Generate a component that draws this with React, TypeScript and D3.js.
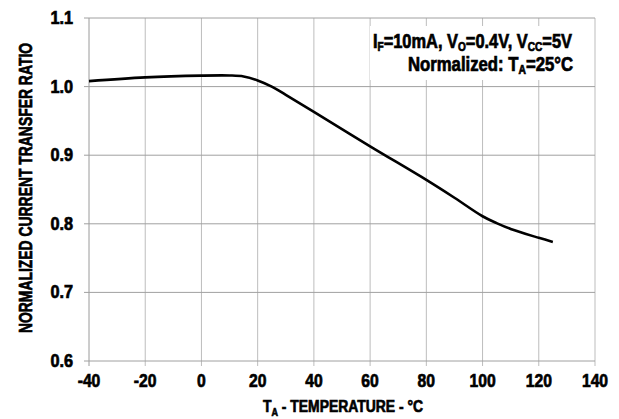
import React, { useLayoutEffect, useRef, useState } from "react";
import * as d3 from "d3";

// readings (temperature °C -> normalized CTR)
const temps = [-40, -20, 0, 10, 15, 20, 25, 30, 40, 60, 80, 90, 100, 105, 110, 120, 125];
const ctr = [1.008, 1.0135, 1.016, 1.0162, 1.0148, 1.009, 1.0, 0.988, 0.963, 0.913, 0.864, 0.838, 0.811, 0.801, 0.7925, 0.7795, 0.7735];

const xTicks = [-40, -20, 0, 20, 40, 60, 80, 100, 120, 140];
const yTicks = [0.6, 0.7, 0.8, 0.9, 1.0, 1.1];

const W = 619, H = 419;
const FONT = "'Liberation Sans', Arial, sans-serif";

// text squeezed horizontally, either to a fixed factor or to a target width
const FitText = ({ x, y, anchor = "start", width, scale, rotate = 0, fontSize, children }:
  { x: number; y: number; anchor?: string; width?: number; scale?: number; rotate?: number; fontSize: number; children: React.ReactNode }) => {
  const ref = useRef<SVGTextElement | null>(null);
  const [k, setK] = useState(scale ?? 0.85);
  useLayoutEffect(() => {
    if (width && ref.current) {
      const w = ref.current.getBBox().width;
      if (w > 0) setK(width / w);
    }
  }, [width]);
  return (
    <g transform={`translate(${x},${y}) rotate(${rotate}) scale(${k},1)`}>
      {/* thin stroke to get the heavy condensed look of the original */}
      <text ref={ref} textAnchor={anchor} fontSize={fontSize} stroke="#000" strokeWidth={0.7}>{children}</text>
    </g>
  );
};

const App = () => {
  const x = d3.scaleLinear().domain([-40, 140]).range([89, 595]);
  const y = d3.scaleLinear().domain([0.6, 1.1]).range([361, 18]);

  const line = d3.line<number>()
    .x((d, i) => x(temps[i]))
    .y((d) => y(d))
    .curve(d3.curveCatmullRom.alpha(0.5));

  return (
    <svg width={W} height={H} style={{ position: "absolute", left: 0, top: 0, background: "#fff" }}
      fontFamily={FONT} fontWeight="bold">
      {/* grid */}
      {xTicks.map((t) => (
        <line key={"vx" + t} x1={x(t)} x2={x(t)} y1={y(1.1)} y2={y(0.6) + 5}
          stroke={t === -40 ? "#9a9a9a" : "#bdbdbd"} strokeWidth={1} />
      ))}
      {yTicks.map((t) => (
        <line key={"hy" + t} x1={x(-40) - 5} x2={x(140)} y1={y(t)} y2={y(t)}
          stroke="#a0a0a0" strokeWidth={1} />
      ))}

      {/* annotation with white backing */}
      <rect x={370} y={26} width={224} height={54} fill="#fff" />
      <FitText x={572} y={48} anchor="end" width={199} fontSize={19.5}>
        I<tspan fontSize={12} dy={3}>F</tspan>
        <tspan dy={-3}>=10mA, V</tspan>
        <tspan fontSize={12} dy={3}>O</tspan>
        <tspan dy={-3}>=0.4V, V</tspan>
        <tspan fontSize={12} dy={3}>CC</tspan>
        <tspan dy={-3}>=5V</tspan>
      </FitText>
      <FitText x={573} y={71} anchor="end" width={165} fontSize={19.5}>
        Normalized: T<tspan fontSize={12} dy={3}>A</tspan>
        <tspan dy={-3}>=25°C</tspan>
      </FitText>

      {/* curve */}
      <path d={line(ctr) || ""} fill="none" stroke="#000" strokeWidth={2.6} />

      {/* tick labels */}
      {xTicks.map((t) => (
        <FitText key={"xl" + t} x={x(t)} y={387} anchor="middle" scale={0.85} fontSize={18.5}>{t}</FitText>
      ))}
      {yTicks.map((t) => (
        <FitText key={"yl" + t} x={73} y={y(t) + 6} anchor="end" scale={0.88} fontSize={18.5}>{d3.format(".1f")(t)}</FitText>
      ))}

      {/* axis titles */}
      <FitText x={343} y={412} anchor="middle" width={160} fontSize={17}>
        T<tspan fontSize={11} dy={4}>A</tspan>
        <tspan dy={-4}> - TEMPERATURE - °C</tspan>
      </FitText>
      <FitText x={32} y={188} rotate={-90} anchor="middle" width={290} fontSize={18.5}>
        NORMALIZED CURRENT TRANSFER RATIO
      </FitText>
    </svg>
  );
};

export default App;
